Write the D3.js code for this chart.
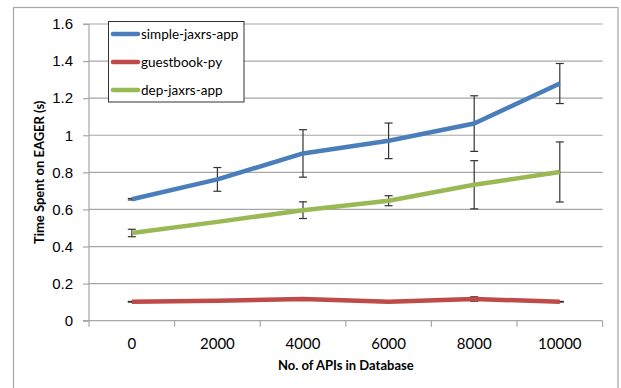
<!DOCTYPE html>
<html lang="en">
  <head>
    <meta charset="UTF-8" />
    <title>EAGER time</title>
    <style>
      body {
        margin: 0;
        background: #fff;
      }
      svg {
        display: block;
        font-family: Lato, "Open Sans", sans-serif;
      }
      .grid line {
        stroke: #a6a6a6;
        stroke-width: 1.2;
      }
      .axis path,
      .axis line {
        stroke: #a6a6a6;
        stroke-width: 1.2;
      }
      .axis text {
        font-size: 15px;
        fill: #000;
      }
      .series path {
        fill: none;
        stroke-width: 4.5;
        stroke-linejoin: round;
      }
      .err line {
        stroke: #333;
        stroke-width: 1.2;
      }
      .legend text {
        font-size: 13.5px;
      }
      .title {
        font-size: 13px;
        font-weight: bold;
      }
    </style>
    <script src="https://cdn.jsdelivr.net/npm/d3@7"></script>
  </head>
  <body>
    <div class="container"></div>
    <script>
      const categories = [0, 2000, 4000, 6000, 8000, 10000];
      const seriesNames = ["simple-jaxrs-app", "guestbook-py", "dep-jaxrs-app"];
      const colors = ["#4a7ebb", "#be4b48", "#98b954"];

      // mean values
      const simpleVals = [0.655, 0.762, 0.902, 0.97, 1.063, 1.279];
      const guestVals = [0.102, 0.108, 0.117, 0.102, 0.117, 0.102];
      const depVals = [0.473, 0.533, 0.596, 0.647, 0.733, 0.802];

      // error (+/-)
      const simpleErr = [0.004, 0.064, 0.128, 0.096, 0.15, 0.108];
      const guestErr = [0.002, 0.002, 0.004, 0.002, 0.012, 0.002];
      const depErr = [0.02, 0.003, 0.045, 0.027, 0.13, 0.162];

      const yTicks = [0, 0.2, 0.4, 0.6, 0.8, 1, 1.2, 1.4, 1.6];

      const values = [simpleVals, guestVals, depVals];
      const errors = [simpleErr, guestErr, depErr];

      function init() {
        const width = 621,
          height = 388;
        const margin = { top: 24, right: 18, bottom: 67, left: 89 };
        const w = 602.6 - margin.left;
        const h = 320.7 - margin.top;

        const svg = d3
          .select(".container")
          .append("svg")
          .attr("width", width)
          .attr("height", height);

        // outer chart border
        svg
          .append("rect")
          .attr("x", 13.5)
          .attr("y", 7.5)
          .attr("width", 604.5)
          .attr("height", 400)
          .attr("fill", "none")
          .attr("stroke", "#a6a6a6")
          .attr("stroke-width", 1.2);

        const g = svg
          .append("g")
          .attr("transform", "translate(" + margin.left + "," + margin.top + ")");

        const x = d3.scaleBand().domain(categories).range([0, w]);
        const y = d3.scaleLinear().domain([0, 1.6]).range([h, 0]);

        // gridlines
        g.append("g")
          .attr("class", "grid")
          .selectAll("line")
          .data(yTicks.slice(1))
          .enter()
          .append("line")
          .attr("x1", 0)
          .attr("x2", w)
          .attr("y1", (d) => y(d))
          .attr("y2", (d) => y(d));

        // y axis
        const yAxis = g
          .append("g")
          .attr("class", "axis")
          .call(
            d3
              .axisLeft(y)
              .tickValues(yTicks)
              .tickSize(6)
              .tickPadding(10)
              .tickFormat((d) => d3.format("~g")(d))
          );
        yAxis.select(".domain").attr("d", "M-6," + h + "H0V0H-6");

        // x axis: ticks on band boundaries
        const xAxis = g
          .append("g")
          .attr("class", "axis")
          .attr("transform", "translate(0," + h + ")");
        xAxis
          .append("line")
          .attr("x1", 0)
          .attr("x2", w)
          .attr("y1", 0)
          .attr("y2", 0);
        const bounds = categories.map((c) => x(c)).concat([w]);
        xAxis
          .selectAll(".tk")
          .data(bounds)
          .enter()
          .append("line")
          .attr("x1", (d) => d)
          .attr("x2", (d) => d)
          .attr("y1", 0)
          .attr("y2", 6);
        xAxis
          .selectAll("text")
          .data(categories)
          .enter()
          .append("text")
          .attr("x", (d) => x(d) + x.bandwidth() / 2)
          .attr("y", 28)
          .attr("text-anchor", "middle")
          .text((d) => d);

        const cx = (i) => x(categories[i]) + x.bandwidth() / 2;

        const line = d3
          .line()
          .x((d, i) => cx(i))
          .y((d) => y(d));

        // error bars
        const err = g.append("g").attr("class", "err");
        values.forEach((vals, s) => {
          vals.forEach((v, i) => {
            const e = errors[s][i];
            const top = y(v + e),
              bot = y(v - e);
            err.append("line").attr("x1", cx(i)).attr("x2", cx(i)).attr("y1", top).attr("y2", bot);
            err.append("line").attr("x1", cx(i) - 4).attr("x2", cx(i) + 4).attr("y1", top).attr("y2", top);
            err.append("line").attr("x1", cx(i) - 4).attr("x2", cx(i) + 4).attr("y1", bot).attr("y2", bot);
          });
        });

        // lines
        g.append("g")
          .attr("class", "series")
          .selectAll("path")
          .data(values)
          .enter()
          .append("path")
          .attr("stroke", (d, i) => colors[i])
          .attr("d", line);

        // axis titles
        svg
          .append("text")
          .attr("class", "title")
          .attr("x", margin.left + w / 2)
          .attr("y", 370)
          .attr("text-anchor", "middle")
          .text("No. of APIs in Database");

        svg
          .append("text")
          .attr("class", "title")
          .attr("transform", "translate(44," + (margin.top + h / 2) + ") rotate(-90)")
          .attr("text-anchor", "middle")
          .text("Time Spent on EAGER (s)");

        // legend
        const legend = svg.append("g").attr("class", "legend");
        legend
          .append("rect")
          .attr("x", 108.5)
          .attr("y", 21.5)
          .attr("width", 135.5)
          .attr("height", 80.5)
          .attr("fill", "#fff")
          .attr("stroke", "#333")
          .attr("stroke-width", 1);
        const item = legend
          .selectAll(".item")
          .data(seriesNames)
          .enter()
          .append("g")
          .attr("transform", (d, i) => "translate(113," + (34 + i * 28) + ")");
        item
          .append("line")
          .attr("x1", 0)
          .attr("x2", 25)
          .attr("stroke", (d, i) => colors[i])
          .attr("stroke-width", 4.5)
          .attr("stroke-linecap", "round");
        item
          .append("text")
          .attr("x", 28)
          .attr("dy", "0.35em")
          .text((d) => d);
      }
      init();
    </script>
  </body>
</html>
